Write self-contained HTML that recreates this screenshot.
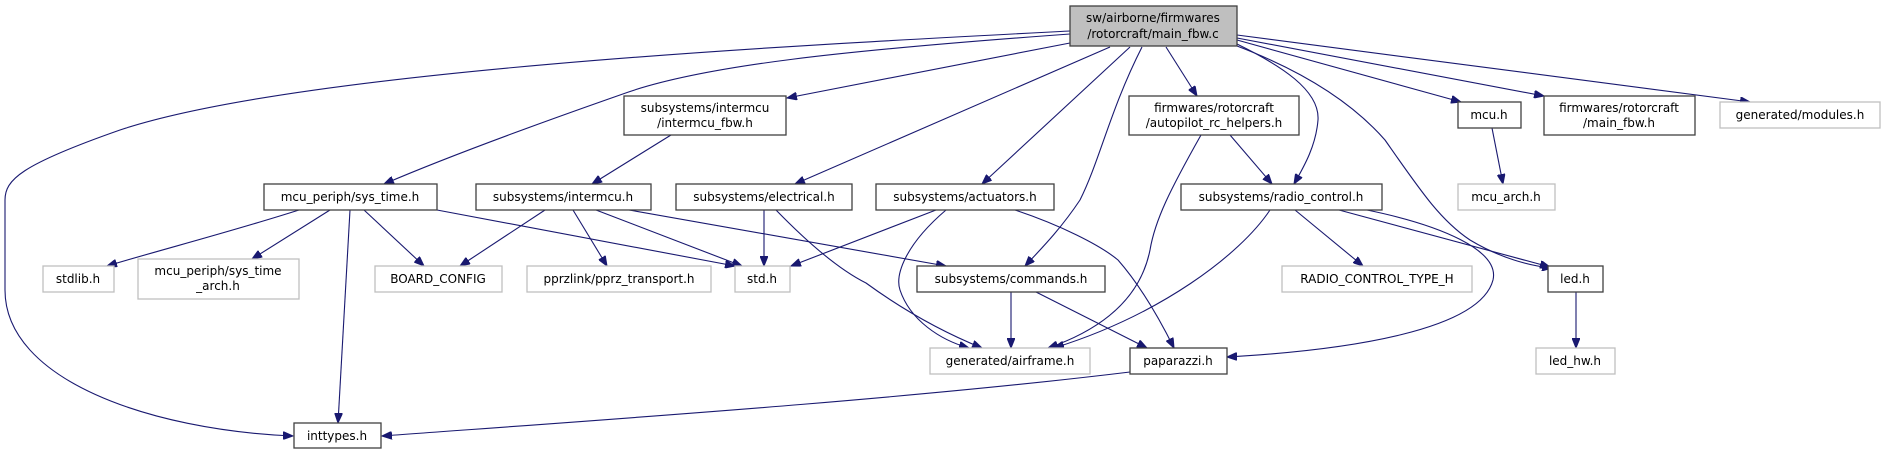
<!DOCTYPE html>
<html><head><meta charset="utf-8"><style>
html,body{margin:0;padding:0;background:#fff;}
svg{display:block;}
text{font-family:"DejaVu Sans","Liberation Sans",sans-serif;font-size:12px;fill:#000;}
.b{fill:#fff;stroke:#404040;stroke-width:1.3;}
.g{fill:#fff;stroke:#bfbfbf;stroke-width:1.3;}
.e{fill:none;stroke:#191970;stroke-width:1.1;}
</style></head><body>
<svg width="1885" height="455" viewBox="0 0 1885 455" xmlns="http://www.w3.org/2000/svg">
<defs><marker id="a" markerWidth="11" markerHeight="8" refX="10" refY="4" orient="auto" markerUnits="userSpaceOnUse"><path d="M0,0 L10,4 L0,8 z" fill="#191970" stroke="#191970"/></marker></defs>
<g marker-end="url(#a)">
<path class="e" d="M1070,31 C800,45 300,70 120,130 C20,165 5,180 5,200 L5,290 C5,380 150,430 293,436"/>
<path class="e" d="M1070,34 C850,50 700,65 620,95 C520,130 440,160 384,184"/>
<path class="e" d="M1070,43 L787,98"/>
<path class="e" d="M1110,47 L795,184"/>
<path class="e" d="M1130,47 L982,184"/>
<path class="e" d="M1142,47 C1110,110 1100,160 1080,200 C1060,230 1040,250 1025,266"/>
<path class="e" d="M1166,47 L1197,96"/>
<path class="e" d="M1237,44 C1280,65 1320,90 1318,120 C1316,145 1305,165 1294,184"/>
<path class="e" d="M1237,46 C1300,70 1350,100 1385,140 C1420,190 1440,220 1470,240 C1500,258 1530,266 1552,268"/>
<path class="e" d="M1237,40 L1461,102"/>
<path class="e" d="M1237,38 L1544,96"/>
<path class="e" d="M1237,35 L1750,102"/>
<path class="e" d="M671,135 L592,184"/>
<path class="e" d="M299,210 C230,232 160,250 107,266"/>
<path class="e" d="M330,210 L252,259"/>
<path class="e" d="M350,210 L338,423"/>
<path class="e" d="M364,210 L424,266"/>
<path class="e" d="M437,210 L735,266"/>
<path class="e" d="M545,210 L460,266"/>
<path class="e" d="M573,210 L607,266"/>
<path class="e" d="M596,210 L742,266"/>
<path class="e" d="M629,210 L946,266"/>
<path class="e" d="M764,210 L764,266"/>
<path class="e" d="M776,210 C810,245 840,270 866,283 C910,315 950,335 982,348"/>
<path class="e" d="M936,210 L791,266"/>
<path class="e" d="M946,210 C905,245 895,275 900,290 C910,320 940,340 969,348"/>
<path class="e" d="M1015,210 C1060,225 1100,245 1118,260 C1140,285 1160,320 1174,348"/>
<path class="e" d="M1201,135 C1170,190 1155,220 1150,250 C1140,300 1100,330 1048,348"/>
<path class="e" d="M1230,135 L1272,184"/>
<path class="e" d="M1270,210 C1240,255 1160,315 1054,348"/>
<path class="e" d="M1295,210 L1363,266"/>
<path class="e" d="M1339,210 L1550,267"/>
<path class="e" d="M1367,210 C1440,225 1500,250 1493,280 C1480,330 1350,350 1227,357"/>
<path class="e" d="M1011,292 L1011,348"/>
<path class="e" d="M1036,292 L1147,348"/>
<path class="e" d="M1130,372 C900,400 600,420 382,436"/>
<path class="e" d="M1492,128 L1503,184"/>
<path class="e" d="M1576,292 L1576,348"/>
</g>
<g text-anchor="middle">
<rect x="1070" y="6" width="167" height="40" fill="#bfbfbf" stroke="#404040" stroke-width="1.3"/>
<text x="1153" y="22">sw/airborne/firmwares</text><text x="1153" y="38">/rotorcraft/main_fbw.c</text>
<rect class="b" x="624" y="96" width="162" height="39"/><text x="705" y="112">subsystems/intermcu</text><text x="705" y="127">/intermcu_fbw.h</text>
<rect class="b" x="1129" y="96" width="170" height="39"/><text x="1214" y="112">firmwares/rotorcraft</text><text x="1214" y="127">/autopilot_rc_helpers.h</text>
<rect class="b" x="1458" y="102" width="63" height="26"/><text x="1489" y="119">mcu.h</text>
<rect class="b" x="1544" y="96" width="151" height="39"/><text x="1619" y="112">firmwares/rotorcraft</text><text x="1619" y="127">/main_fbw.h</text>
<rect class="g" x="1720" y="102" width="160" height="26"/><text x="1800" y="119">generated/modules.h</text>
<rect class="b" x="264" y="184" width="173" height="26"/><text x="350" y="201">mcu_periph/sys_time.h</text>
<rect class="b" x="476" y="184" width="175" height="26"/><text x="563" y="201">subsystems/intermcu.h</text>
<rect class="b" x="676" y="184" width="176" height="26"/><text x="764" y="201">subsystems/electrical.h</text>
<rect class="b" x="876" y="184" width="178" height="26"/><text x="965" y="201">subsystems/actuators.h</text>
<rect class="b" x="1181" y="184" width="201" height="26"/><text x="1281" y="201">subsystems/radio_control.h</text>
<rect class="g" x="1458" y="184" width="97" height="26"/><text x="1506" y="201">mcu_arch.h</text>
<rect class="g" x="43" y="266" width="71" height="26"/><text x="78" y="283">stdlib.h</text>
<rect class="g" x="138" y="259" width="161" height="40"/><text x="218" y="275">mcu_periph/sys_time</text><text x="218" y="290">_arch.h</text>
<rect class="g" x="375" y="266" width="127" height="26"/><text x="438" y="283">BOARD_CONFIG</text>
<rect class="g" x="527" y="266" width="184" height="26"/><text x="619" y="283">pprzlink/pprz_transport.h</text>
<rect class="g" x="735" y="266" width="55" height="26"/><text x="762" y="283">std.h</text>
<rect class="b" x="917" y="266" width="188" height="26"/><text x="1011" y="283">subsystems/commands.h</text>
<rect class="g" x="1282" y="266" width="190" height="26"/><text x="1377" y="283">RADIO_CONTROL_TYPE_H</text>
<rect class="b" x="1548" y="266" width="55" height="26"/><text x="1575" y="283">led.h</text>
<rect class="g" x="930" y="348" width="160" height="26"/><text x="1010" y="365">generated/airframe.h</text>
<rect class="b" x="1130" y="348" width="97" height="26"/><text x="1178" y="365">paparazzi.h</text>
<rect class="g" x="1536" y="348" width="79" height="26"/><text x="1575" y="365">led_hw.h</text>
<rect class="b" x="294" y="423" width="87" height="25"/><text x="337" y="440">inttypes.h</text>
</g>
</svg>
</body></html>
